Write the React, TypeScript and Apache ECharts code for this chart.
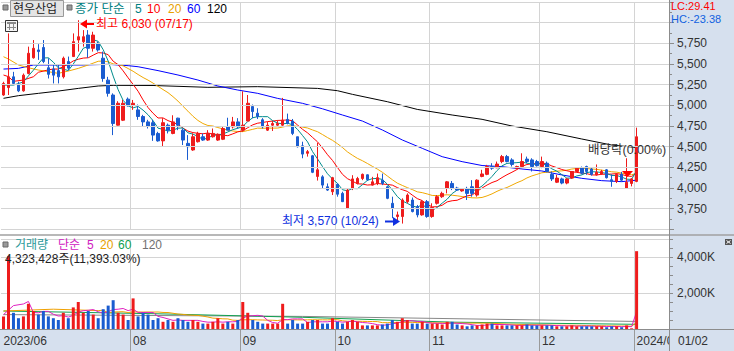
import React, { useEffect, useRef } from 'react';
import * as echarts from 'echarts';

// ---- trading days (per month) ----
const junDays = [26, 27, 28, 29, 30];
const julDays = [3, 4, 5, 6, 7, 10, 11, 12, 13, 14, 17, 18, 19, 20, 21, 24, 25, 26, 27, 28, 31];
const augDays = [1, 2, 3, 4, 7, 8, 9, 10, 11, 14, 16, 17, 18, 21, 22, 23, 24, 25, 28, 29, 30, 31];
const sepDays = [1, 4, 5, 6, 7, 8, 11, 12, 13, 14, 15, 18, 19, 20, 21, 22, 25, 26, 27];
const octDays = [4, 5, 6, 10, 11, 12, 13, 16, 17, 18, 19, 20, 23, 24, 25, 26, 27, 30, 31];
const novDays = [1, 2, 3, 6, 7, 8, 9, 10, 13, 14, 15, 16, 17, 20, 21, 22, 23, 24, 27, 28, 29, 30];
const decDays = [1, 4, 5, 6, 7, 8, 11, 12, 13, 14, 15, 18, 19, 20, 21, 22, 26, 27, 28];
const janDays = [2];
const months: [string, number[]][] = [
  ['2023/06', junDays], ['2023/07', julDays], ['2023/08', augDays], ['2023/09', sepDays],
  ['2023/10', octDays], ['2023/11', novDays], ['2023/12', decDays], ['2024/01', janDays],
];
const emptySlots = 6;

// ---- OHLC ----
const opens = [
  5125, 5215, 5345, 5245, 5175,
  5385, 5575, 5670, 5700, 5455, 5440, 5420, 5345, 5530, 5590, 5790, 5770, 5850, 5690, 5750, 5570, 5305, 5125, 4760, 4820, 5075,
  5005, 4945, 4865, 4800, 4790, 4660, 4570, 4760, 4660, 4845, 4700, 4540, 4460, 4560, 4620, 4580, 4620, 4580, 4590, 4740, 4740, 4800,
  4700, 4810, 4985, 4905, 4825, 4700, 4760, 4760, 4760, 4830, 4810, 4620, 4510, 4420, 4390, 4140, 4135, 4015, 3955,
  4045, 3935, 3755, 3995, 4055, 4115, 4160, 4035, 4055, 4095, 4015, 3815, 3655, 3655, 3835, 3855, 3775, 3675, 3835,
  3655, 3815, 3895, 3995, 4055, 4000, 3965, 3995, 4015, 3915, 4140, 4165, 4260, 4245, 4320, 4380, 4340, 4240, 4260, 4350, 4340, 4320,
  4260, 4300, 4165, 4070, 4110, 4060, 4120, 4200, 4245, 4260, 4230, 4160, 4170, 4220, 4100, 4080, 4165, 4000, 4055,
  4080,
];
const closes = [
  5265, 5345, 5265, 5175, 5365,
  5630, 5690, 5650, 5530, 5375, 5365, 5345, 5570, 5450, 5770, 5830, 5830, 5690, 5850, 5670, 5325, 5145, 4780, 5025, 5025, 4995,
  5025, 4865, 4800, 4745, 4640, 4570, 4790, 4700, 4800, 4760, 4580, 4500, 4620, 4660, 4580, 4660, 4660, 4650, 4720, 4700, 4800, 4740,
  4760, 5025, 4925, 4865, 4740, 4760, 4780, 4780, 4820, 4780, 4660, 4500, 4410, 4440, 4190, 4220, 4035, 3975, 4125,
  3925, 3835, 3975, 4110, 4115, 4165, 4100, 4075, 4125, 4055, 3875, 3755, 3675, 3855, 3915, 3715, 3675, 3835, 3655,
  3765, 3895, 3935, 4075, 3995, 3975, 3985, 3935, 3935, 4095, 4170, 4260, 4240, 4290, 4380, 4320, 4285, 4260, 4320, 4320, 4260, 4270,
  4320, 4200, 4110, 4120, 4060, 4110, 4200, 4240, 4180, 4200, 4165, 4190, 4200, 4125, 4080, 4165, 4095, 4070, 4110,
  4620,
];
const lows = [
  5115, 5125, 5245, 5160, 5165,
  5375, 5565, 5550, 5510, 5325, 5265, 5265, 5325, 5425, 5585, 5650, 5710, 5575, 5650, 5650, 5285, 5105, 4640, 4755, 4810, 4985,
  4945, 4825, 4740, 4720, 4570, 4560, 4500, 4660, 4650, 4700, 4520, 4340, 4450, 4550, 4570, 4570, 4610, 4570, 4580, 4700, 4720, 4720,
  4680, 4810, 4845, 4835, 4720, 4690, 4690, 4740, 4740, 4770, 4640, 4490, 4360, 4380, 4180, 4090, 3995, 3965, 3915,
  3895, 3830, 3745, 3975, 4045, 4095, 4085, 4030, 4035, 4035, 3865, 3635, 3590, 3570, 3815, 3705, 3645, 3665, 3640,
  3640, 3800, 3880, 3935, 3975, 3965, 3955, 3855, 3895, 3895, 4130, 4155, 4220, 4240, 4300, 4310, 4260, 4230, 4240, 4300, 4200, 4260,
  4240, 4190, 4085, 4060, 4045, 4045, 4110, 4190, 4165, 4160, 4150, 4150, 4160, 4115, 4015, 4060, 4075, 3990, 4020,
  4070,
];
const highs = [
  5285, 5870, 5405, 5285, 5385,
  5710, 5790, 5740, 5790, 5570, 5490, 5490, 5590, 5590, 5870, 6030, 5910, 5910, 5890, 5770, 5650, 5345, 5145, 5050, 5065, 5095,
  5065, 5010, 4885, 4825, 4825, 4680, 4845, 4780, 4880, 4850, 4720, 4640, 4660, 4680, 4660, 4700, 4720, 4660, 4740, 4850, 4860, 4845,
  5170, 5125, 5010, 4965, 4845, 4800, 4810, 4820, 5090, 4900, 4835, 4620, 4560, 4460, 4400, 4545, 4155, 4055, 4135,
  4055, 3955, 3990, 4155, 4135, 4175, 4165, 4135, 4175, 4175, 4030, 3895, 3715, 3875, 3935, 3885, 3795, 3855, 3855,
  3815, 3915, 3955, 4085, 4085, 4015, 3995, 4015, 4095, 4105, 4220, 4280, 4300, 4320, 4400, 4400, 4360, 4270, 4420, 4380, 4360, 4340,
  4380, 4320, 4200, 4160, 4125, 4120, 4205, 4250, 4260, 4270, 4245, 4285, 4220, 4230, 4165, 4180, 4195, 4360, 4120,
  4730,
];
const volumes = [
  700000, 4050000, 900000, 600000, 700000,
  1400000, 1000000, 800000, 1000000, 700000, 600000, 500000, 900000, 600000, 1200000, 1500000, 900000, 1000000, 800000, 600000, 1100000, 1300000, 1600000, 900000, 800000, 500000,
  1700000, 700000, 900000, 800000, 500000, 600000, 400000, 500000, 400000, 600000, 500000, 400000, 500000, 400000, 300000, 300000, 400000, 600000, 300000, 400000, 300000, 500000,
  1500000, 900000, 500000, 400000, 300000, 300000, 300000, 300000, 1400000, 300000, 500000, 300000, 300000, 400000, 500000, 500000, 300000, 300000, 600000,
  400000, 300000, 400000, 500000, 400000, 200000, 200000, 200000, 200000, 250000, 300000, 500000, 400000, 600000, 500000, 300000, 300000, 400000, 300000,
  300000, 300000, 250000, 400000, 400000, 250000, 200000, 150000, 200000, 200000, 250000, 300000, 300000, 200000, 200000, 200000, 200000, 200000, 200000, 250000, 200000, 200000,
  200000, 200000, 200000, 150000, 150000, 150000, 200000, 150000, 150000, 150000, 150000, 150000, 150000, 100000, 150000, 150000, 100000, 200000, 37948,
  4323428,
];

// ---- moving-average lines (index, value) ----
const ma5Head: [number, number][] = [[0, 5245], [2, 5245]];
const ma10Head: [number, number][] = [[0, 5367], [1, 5347], [2, 5290], [4, 5306], [6, 5346], [7, 5400]];
const ma20Head: [number, number][] = [[0, 5588], [1, 5560], [3, 5488], [5, 5455], [7, 5427], [9, 5407], [11, 5387], [13, 5415], [15, 5447], [17, 5488]];
const ma60Points: [number, number][] = [
  [0, 5439], [3, 5447], [6, 5488], [16, 5488], [21, 5496], [25, 5480], [27, 5467], [31, 5420], [35, 5367], [39, 5306],
  [43, 5234], [47, 5185], [51, 5145], [55, 5084], [60, 5024], [64, 4958], [68, 4883], [72, 4810], [76, 4702], [80, 4581],
  [84, 4480], [88, 4379], [92, 4319], [96, 4272], [100, 4258], [104, 4230], [108, 4206], [112, 4158], [116, 4117],
  [120, 4089], [124, 4077], [127, 4095],
];
const ma120Points: [number, number][] = [
  [0, 5085], [3, 5117], [7, 5145], [11, 5173], [15, 5205], [19, 5234], [22, 5242], [30, 5240], [41, 5218], [51, 5226],
  [63, 5205], [67, 5177], [70, 5133], [77, 5044], [83, 4951], [90, 4883], [96, 4831], [102, 4750], [109, 4681],
  [116, 4593], [122, 4520], [127, 4490],
];
const volMa5Head: [number, number][] = [[0, 800000], [2, 1300000]];
const volMa20Head: [number, number][] = [[0, 1000000], [10, 1100000]];
const volMa60Points: [number, number][] = [[0, 1000000], [30, 850000], [60, 650000], [90, 380000], [127, 260000]];
const volMa120Points: [number, number][] = [[0, 800000], [60, 700000], [127, 420000]];

const priceTicks = { min: 3500, max: 6250, step: 250 };
const volTicks = { min: 0, max: 5000000, step: 500000, gridStep: 2000000 };

const RED = '#ee1c1c';
const BLUE = '#1a5cd0';
const BAND = '#d6e0ee';
const FONT = '"Liberation Sans", "Noto Sans CJK KR", sans-serif';

function movingAvg(values: number[], n: number): [number, number][] {
  const out: [number, number][] = [];
  for (let i = n - 1; i < values.length; i++) {
    let s = 0;
    for (let k = i - n + 1; k <= i; k++) s += values[k];
    out.push([i, s / n]);
  }
  return out;
}

function txt(text: string, x: number, y: number, fill: string, size = 12, z = 8): any {
  return {
    type: 'text', x, y, z, silent: true,
    style: {
      text, fill, font: `${size}px ${FONT}`,
      textAlign: 'left', textVerticalAlign: 'middle', align: 'left', verticalAlign: 'middle',
    },
  };
}

export default function App() {
  const ref = useRef<HTMLDivElement>(null);
  useEffect(() => {
    if (!ref.current) return;
    const chart = echarts.init(ref.current, undefined, { renderer: 'svg' });

    const dates: string[] = [];
    months.forEach(([m, days]) => days.forEach((d) => dates.push(`${m}/${String(d).padStart(2, '0')}`)));
    const cats = [...dates, ...Array.from({ length: emptySlots }, () => '')];
    const monthOf = (i: number) => (cats[i] ? cats[i].slice(0, 7) : '');
    const isMonthStart = (i: number) => !!cats[i] && (i === 0 || monthOf(i) !== monthOf(i - 1));
    // a month label is skipped when it would sit too close to the previous one
    const labeled = new Set<number>();
    let lastLabel = -100;
    cats.forEach((_, i) => {
      if (isMonthStart(i) && i - lastLabel >= 12) { labeled.add(i); lastLabel = i; }
    });
    const isLabel = (i: number) => labeled.has(i);
    const isMonthLine = (i: number) => i > 0 && labeled.has(i);

    const candles = dates.map((_, i) => [opens[i], closes[i], lows[i], highs[i]]);
    const ma5 = [...ma5Head, ...movingAvg(closes, 5)];
    const ma10 = [...ma10Head, ...movingAvg(closes, 10)];
    const ma20 = [...ma20Head, ...movingAvg(closes, 20)];
    const vma5 = [...volMa5Head, ...movingAvg(volumes, 5)];
    const vma20 = [...volMa20Head, ...movingAvg(volumes, 20)];

    const line = (data: any, color: string, x: number, y: number) => ({
      type: 'line', data, xAxisIndex: x, yAxisIndex: y, symbol: 'none', silent: true, z: 2,
      lineStyle: { color, width: 1 }, itemStyle: { color },
    });

    const splitColor = '#d4d4d4';
    const axisColor = '#8c8c8c';

    const option: any = {
      animation: false,
      backgroundColor: '#ffffff',
      grid: [
        { left: 1, width: 668, top: 2, height: 227.35 },
        { left: 1, width: 668, top: 239, height: 90 },
      ],
      xAxis: [
        {
          type: 'category', gridIndex: 0, data: cats, boundaryGap: true,
          axisLine: { show: false }, axisTick: { show: false }, axisLabel: { show: false },
          splitLine: { show: true, interval: (i: number) => isMonthLine(i), lineStyle: { color: splitColor, width: 1 } },
        },
        {
          type: 'category', gridIndex: 1, data: cats, boundaryGap: true, z: 1,
          axisLine: { show: true, lineStyle: { color: axisColor, width: 1 } },
          axisTick: { show: true, interval: (i: number) => isMonthLine(i), length: 22, lineStyle: { color: '#9a9a9a' } },
          axisLabel: {
            show: true, interval: (i: number) => isLabel(i), align: 'left', margin: 6,
            showMinLabel: true, showMaxLabel: true,
            color: '#333', fontSize: 12, fontFamily: FONT, hideOverlap: false,
            formatter: (v: string, i: number) => (i === 0 || v.slice(5, 7) === '01' ? v.slice(0, 7) : v.slice(5, 7)),
          },
          splitLine: { show: true, interval: (i: number) => isMonthLine(i), lineStyle: { color: splitColor, width: 1 } },
        },
      ],
      yAxis: [
        {
          type: 'value', gridIndex: 0, position: 'right', z: 5,
          min: priceTicks.min, max: priceTicks.max, interval: priceTicks.step,
          axisLine: { show: true, lineStyle: { color: axisColor } },
          axisTick: { show: true, length: 5, lineStyle: { color: axisColor } },
          minorTick: { show: true, splitNumber: 2, length: 3, lineStyle: { color: axisColor } },
          splitLine: { show: true, lineStyle: { color: splitColor, width: 1 } },
          axisLabel: {
            margin: 8, color: '#333', fontSize: 12, fontFamily: FONT, showMinLabel: true, showMaxLabel: true,
            formatter: (v: number) => (v >= 3750 && v <= 5750 ? v.toLocaleString('en-US') : ''),
          },
        },
        {
          type: 'value', gridIndex: 1, position: 'right', z: 5,
          min: volTicks.min, max: volTicks.max, interval: volTicks.step,
          axisLine: { show: true, lineStyle: { color: axisColor } },
          axisTick: { show: true, length: 4, lineStyle: { color: axisColor } },
          splitLine: { show: false },
          axisLabel: {
            margin: 8, color: '#333', fontSize: 12, fontFamily: FONT,
            formatter: (v: number) => (v > 0 && v % volTicks.gridStep === 0 ? (v / 1000).toLocaleString('en-US') + 'K' : ''),
          },
        },
        {
          type: 'value', gridIndex: 1, position: 'right', show: true,
          min: volTicks.min, max: volTicks.max, interval: volTicks.gridStep,
          axisLine: { show: false }, axisTick: { show: false }, axisLabel: { show: false },
          splitLine: { show: true, lineStyle: { color: splitColor, width: 1 } },
        },
      ],
      series: [
        line(ma120Points, '#000000', 0, 0),
        line(ma60Points, '#0000ff', 0, 0),
        line(ma20, '#f0a800', 0, 0),
        line(ma10, '#ff0000', 0, 0),
        line(ma5, '#008c8c', 0, 0),
        {
          type: 'candlestick', xAxisIndex: 0, yAxisIndex: 0, data: candles, barWidth: 3, z: 3, silent: true,
          itemStyle: { color: RED, color0: BLUE, borderColor: RED, borderColor0: BLUE, borderWidth: 1 },
        },
        {
          type: 'bar', xAxisIndex: 1, yAxisIndex: 1, barWidth: 3, z: 3, silent: true,
          data: volumes.map((v, i) => ({ value: v, itemStyle: { color: closes[i] >= opens[i] ? RED : BLUE } })),
        },
        line(volMa120Points, '#888888', 1, 1),
        line(volMa60Points, '#10a050', 1, 1),
        line(vma20, '#f0a000', 1, 1),
        line(vma5, '#e020c0', 1, 1),
      ],
      graphic: {
        elements: [
          { type: 'rect', z: 0, silent: true, shape: { x: 0, y: 330, width: 734, height: 21 }, style: { fill: BAND } },
          { type: 'rect', z: 3, silent: true, shape: { x: 669.5, y: 0, width: 65, height: 351 }, style: { fill: BAND } },
          { type: 'line', z: 4, silent: true, shape: { x1: 0, y1: 235, x2: 734, y2: 235 }, style: { stroke: '#a0a0a0', lineWidth: 1.5 } },
          { type: 'line', z: 4, silent: true, shape: { x1: 669.5, y1: 0, x2: 669.5, y2: 351 }, style: { stroke: axisColor, lineWidth: 1 } },
          { type: 'line', z: 4, silent: true, shape: { x1: 0, y1: 329.5, x2: 734, y2: 329.5 }, style: { stroke: axisColor, lineWidth: 1 } },
          // top legend
          { type: 'rect', z: 8, silent: true, shape: { x: 3, y: 5, width: 5, height: 5 }, style: { fill: '#9a9a9a', stroke: '#6a6a6a', lineWidth: 1 } },
          { type: 'rect', z: 8, silent: true, shape: { x: 10.5, y: 0.5, width: 53, height: 16 }, style: { fill: '#e4e4e4', stroke: '#9a9a9a', lineWidth: 1 } },
          txt('현우산업', 13, 9, '#222'),
          { type: 'rect', z: 8, silent: true, shape: { x: 67, y: 5, width: 5, height: 5 }, style: { fill: '#9a9a9a', stroke: '#6a6a6a', lineWidth: 1 } },
          txt('종가 단순', 75, 9, '#008080', 12.5),
          txt('5', 135, 9, '#008080'),
          txt('10', 147, 9, '#ff0000'),
          txt('20', 168, 9, '#e8a000'),
          txt('60', 187, 9, '#0000ff'),
          txt('120', 207, 9, '#000000'),
          // table icon
          { type: 'rect', z: 8, silent: true, shape: { x: 5.5, y: 20.5, width: 12, height: 11 }, style: { fill: '#f4f4f4', stroke: '#333', lineWidth: 1 } },
          { type: 'rect', z: 8, silent: true, shape: { x: 7, y: 22, width: 9, height: 2 }, style: { fill: '#888' } },
          { type: 'line', z: 8, silent: true, shape: { x1: 9.5, y1: 24, x2: 9.5, y2: 30 }, style: { stroke: '#888', lineWidth: 1 } },
          { type: 'line', z: 8, silent: true, shape: { x1: 13.5, y1: 24, x2: 13.5, y2: 30 }, style: { stroke: '#888', lineWidth: 1 } },
          { type: 'line', z: 8, silent: true, shape: { x1: 7, y1: 27.5, x2: 16, y2: 27.5 }, style: { stroke: '#888', lineWidth: 1 } },
          // high marker
          { type: 'polygon', z: 8, silent: true, shape: { points: [[80, 24], [87, 19.5], [87, 28.5]] }, style: { fill: '#ff0000' } },
          { type: 'line', z: 8, silent: true, shape: { x1: 86, y1: 24, x2: 94, y2: 24 }, style: { stroke: '#ff0000', lineWidth: 2 } },
          txt('최고 6,030 (07/17)', 96, 24, '#ff0000'),
          // low marker
          txt('최저 3,570 (10/24)', 282, 221, '#1030e0'),
          { type: 'line', z: 8, silent: true, shape: { x1: 385, y1: 221.5, x2: 394, y2: 221.5 }, style: { stroke: '#1030e0', lineWidth: 2 } },
          { type: 'polygon', z: 8, silent: true, shape: { points: [[400, 221.5], [393, 217], [393, 226]] }, style: { fill: '#1030e0' } },
          // ex-dividend marker
          txt('배당락(0.00%)', 588, 150, '#333', 12.5),
          { type: 'polygon', z: 8, silent: true, shape: { points: [[622, 171], [633, 171], [627.5, 177]] }, style: { fill: '#ff0000' } },
          // LC / HC
          txt('LC:29.41', 671, 5.5, '#ff0000', 11, 9),
          txt('HC:-23.38', 671, 18.5, '#1060e0', 11, 9),
          // volume legend
          { type: 'rect', z: 8, silent: true, shape: { x: 3, y: 242, width: 5, height: 5 }, style: { fill: '#9a9a9a', stroke: '#6a6a6a', lineWidth: 1 } },
          txt('거래량', 15, 244.5, '#2a9a9a', 12),
          txt('단순', 58, 244.5, '#d020c0', 12),
          txt('5', 87, 244.5, '#d020c0'),
          txt('20', 100, 244.5, '#e8a000'),
          txt('60', 118, 244.5, '#10a050'),
          txt('120', 142, 244.5, '#707070'),
          txt('4,323,428주(11,393.03%)', 5, 258.5, '#222'),
          // small close box
          { type: 'rect', z: 9, silent: true, shape: { x: 725, y: 239, width: 7, height: 6 }, style: { fill: '#555' } },
          { type: 'line', z: 9, silent: true, shape: { x1: 726.5, y1: 240.5, x2: 730.5, y2: 243.5 }, style: { stroke: '#fff', lineWidth: 1 } },
          { type: 'line', z: 9, silent: true, shape: { x1: 730.5, y1: 240.5, x2: 726.5, y2: 243.5 }, style: { stroke: '#fff', lineWidth: 1 } },
          // last date
          txt('01/02', 678, 341, '#333', 12, 9),
        ],
      },
    };
    chart.setOption(option);
    return () => chart.dispose();
  }, []);
  return <div ref={ref} style={{ position: 'fixed', left: 0, top: 0, width: 734, height: 351 }} />;
}
